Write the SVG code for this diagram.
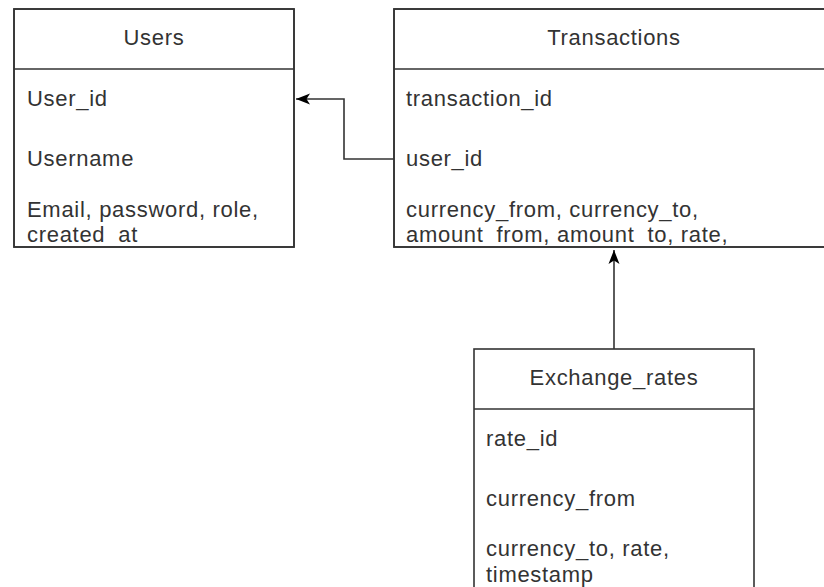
<svg xmlns="http://www.w3.org/2000/svg" width="824" height="587" viewBox="0 0 824 587">
<style>
.box{fill:#fff;stroke:#333;stroke-width:1.6}
.ln{fill:none;stroke:#333;stroke-width:1.6}
.t{font-family:"Liberation Sans",Arial,sans-serif;font-size:22px;letter-spacing:0.7px;fill:#333}
.c{text-anchor:middle}
</style>
<defs>
<marker id="arr" viewBox="0 0 14 12" refX="14" refY="6" markerWidth="14" markerHeight="12" markerUnits="userSpaceOnUse" orient="auto">
<path d="M0,0.5 L14,6 L0,11.5 L3.5,6 Z" fill="#000"/>
</marker>
<clipPath id="cu"><rect x="14" y="69" width="280" height="176"/></clipPath>
<clipPath id="ct"><rect x="394" y="69" width="440" height="176"/></clipPath>
<clipPath id="ce"><rect x="474" y="409" width="280" height="178"/></clipPath>
</defs>
<g id="connectors">
<path class="ln" d="M394,159 H344 V99 H296" marker-end="url(#arr)"/>
<path class="ln" d="M614,349 V250" marker-end="url(#arr)"/>
</g>
<g id="users">
<rect class="box" x="14" y="9" width="280" height="238"/>
<line class="ln" x1="14" y1="69" x2="294" y2="69"/>
<text class="t c" x="154" y="45">Users</text>
<g clip-path="url(#cu)">
<text class="t" x="27" y="106">User_id</text>
<text class="t" x="27" y="166">Username</text>
<text class="t" x="27" y="217">Email, password, role,</text>
<text class="t" x="27" y="242">created_at</text>
</g>
<rect x="14" y="9" width="280" height="238" fill="none" stroke="#333" stroke-width="1.6"/>
</g>
<g id="transactions">
<rect class="box" x="394" y="9" width="440" height="238"/>
<line class="ln" x1="394" y1="69" x2="834" y2="69"/>
<text class="t c" x="614" y="45">Transactions</text>
<g clip-path="url(#ct)">
<text class="t" x="406" y="106">transaction_id</text>
<text class="t" x="406" y="166">user_id</text>
<text class="t" x="406" y="217">currency_from, currency_to,</text>
<text class="t" x="406" y="242">amount_from, amount_to, rate,</text>
</g>
<rect x="394" y="9" width="440" height="238" fill="none" stroke="#333" stroke-width="1.6"/>
</g>
<g id="exchange_rates">
<rect class="box" x="474" y="349" width="280" height="260"/>
<line class="ln" x1="474" y1="409" x2="754" y2="409"/>
<text class="t c" x="614" y="385">Exchange_rates</text>
<g clip-path="url(#ce)">
<text class="t" x="486" y="446">rate_id</text>
<text class="t" x="486" y="506">currency_from</text>
<text class="t" x="486" y="556">currency_to, rate,</text>
<text class="t" x="486" y="582">timestamp</text>
</g>
</g>
</svg>
